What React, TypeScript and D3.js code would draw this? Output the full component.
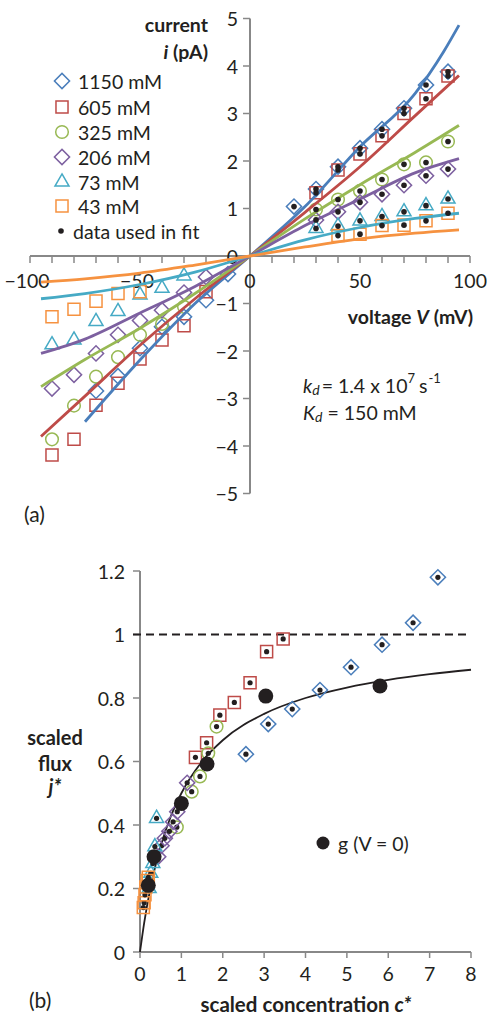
import React from 'react';
import * as d3 from 'd3';

const FONT = "Lato, 'Open Sans', 'DejaVu Sans', sans-serif";
const INK = '#231F20';
const AXIS = '#888888';
const FS = 19.5;

// ---------- Panel (a): current–voltage relations ----------
const seriesLabels = ['1150 mM', '605 mM', '325 mM', '206 mM', '73 mM', '43 mM'];
const seriesColors = ['#4A7EBB', '#BE4B48', '#98B954', '#7D60A0', '#46AAC5', '#F69240'];
const seriesShapes = ['diamond', 'square', 'circle', 'diamond', 'triangle', 'square'];

// measured currents (pA) at each voltage (mV)
const v1150 = [-70, -60, -50, -40, -30, -20, -10, 20, 30, 40, 50, 60, 70, 80, 90];
const i1150 = [-2.84, -2.53, -1.94, -1.49, -1.28, -0.93, -0.38, 1.04, 1.41, 1.88, 2.27, 2.67, 3.11, 3.6, 3.88];
const v605 = [-90, -80, -70, -60, -50, -40, -30, -20, 30, 40, 50, 60, 70, 80, 90];
const i605 = [-4.19, -3.86, -3.14, -2.68, -2.17, -1.77, -1.47, -0.75, 1.33, 1.81, 2.15, 2.53, 3.0, 3.31, 3.79];
const v325 = [-90, -80, -70, -60, -50, -40, -30, 30, 40, 50, 60, 70, 80, 90];
const i325 = [-3.86, -3.15, -2.54, -2.13, -1.66, -1.43, -1.07, 0.98, 1.19, 1.37, 1.61, 1.93, 1.97, 2.41];
const v206 = [-90, -80, -70, -60, -50, -40, -30, -20, 30, 40, 50, 60, 70, 80, 90];
const i206 = [-2.79, -2.5, -2.05, -1.66, -1.36, -1.14, -0.77, -0.44, 0.76, 0.93, 1.13, 1.3, 1.49, 1.69, 1.83];
const v73 = [-90, -80, -70, -60, -50, -40, -30, 30, 40, 50, 60, 70, 80, 90];
const i73 = [-1.87, -1.77, -1.38, -1.17, -0.82, -0.68, -0.42, 0.58, 0.63, 0.74, 0.83, 0.93, 1.06, 1.2];
const v43 = [-90, -80, -70, -60, -50, 40, 50, 60, 70, 80, 90];
const i43 = [-1.28, -1.12, -0.95, -0.79, -0.75, 0.43, 0.46, 0.64, 0.65, 0.74, 0.9];

const measuredV = [v1150, v605, v325, v206, v73, v43];
const measuredI = [i1150, i605, i325, i206, i73, i43];

// model fits
const fitV1150 = [-75, -50, -25, 0, 25, 50, 75, 88, 95];
const fitI1150 = [-3.49, -2.19, -1.0, 0, 1.04, 2.3, 3.42, 4.3, 4.86];
const fitV = [-95, -75, -50, -25, 0, 25, 50, 75, 95];
const fitI605 = [-3.8, -2.95, -1.88, -0.9, 0, 0.92, 1.88, 2.95, 3.8];
const fitI325 = [-2.75, -2.18, -1.52, -0.79, 0, 0.78, 1.5, 2.18, 2.75];
const fitI206 = [-2.05, -1.75, -1.2, -0.64, 0, 0.64, 1.2, 1.75, 2.05];
const fitI73 = [-0.9, -0.79, -0.6, -0.34, 0, 0.34, 0.6, 0.79, 0.9];
const fitI43 = [-0.55, -0.48, -0.36, -0.19, 0, 0.19, 0.36, 0.48, 0.55];

const fitVs = [fitV1150, fitV, fitV, fitV, fitV, fitV];
const fitIs = [fitI1150, fitI605, fitI325, fitI206, fitI73, fitI43];

const voltageTickLabels = [-100, -50, 0, 50, 100];
const currentTickLabels = [-5, -4, -3, -2, -1, 0, 1, 2, 3, 4, 5];

// ---------- Panel (b): scaled flux vs scaled concentration ----------
const c1150 = [2.56, 3.1, 3.68, 4.35, 5.1, 5.85, 6.6, 7.2];
const j1150 = [0.623, 0.718, 0.765, 0.825, 0.897, 0.968, 1.037, 1.18];
const c605 = [1.34, 1.61, 1.93, 2.28, 2.66, 3.06, 3.46];
const j605 = [0.613, 0.659, 0.746, 0.786, 0.848, 0.946, 0.986];
const c325 = [0.89, 1.25, 1.45, 1.65, 1.85];
const j325 = [0.393, 0.505, 0.553, 0.626, 0.71];
const c206 = [0.44, 0.52, 0.6, 0.71, 0.8, 0.9, 1.14];
const j206 = [0.3, 0.335, 0.358, 0.38, 0.41, 0.442, 0.533];
const c73 = [0.22, 0.26, 0.31, 0.36, 0.4];
const j73 = [0.2, 0.248, 0.279, 0.332, 0.421];
const c43 = [0.08, 0.1, 0.12, 0.14, 0.17, 0.2];
const j43 = [0.14, 0.155, 0.18, 0.205, 0.225, 0.235];

const scaledC = [c1150, c605, c325, c206, c73, c43];
const scaledJ = [j1150, j605, j325, j206, j73, j43];

// conductance at V = 0
const gC = [0.2, 0.34, 1.0, 1.62, 3.04, 5.8];
const gJ = [0.21, 0.3, 0.468, 0.592, 0.806, 0.838];

// saturating fit curve
const fitC = [0, 0.1, 0.25, 0.5, 0.75, 1, 1.5, 2, 3, 4, 5, 6, 7, 8];
const fitJ = [0, 0.091, 0.2, 0.333, 0.429, 0.5, 0.6, 0.667, 0.75, 0.8, 0.833, 0.857, 0.875, 0.889];

const cTickLabels = [0, 1, 2, 3, 4, 5, 6, 7, 8];
const jTickLabels = [0, 0.2, 0.4, 0.6, 0.8, 1, 1.2];

const symbolPaths: Record<string, string> = {
  diamond: d3.symbol(d3.symbolSquare, 115)() as string,
  square: d3.symbol(d3.symbolSquare, 145)() as string,
  circle: d3.symbol(d3.symbolCircle, 125)() as string,
  triangle: d3.symbol(d3.symbolTriangle, 85)() as string,
};

function Marker({ shape, x, y, color }: { shape: string; x: number; y: number; color: string }) {
  const rot = shape === 'diamond' ? ' rotate(45)' : '';
  return (
    <path
      d={symbolPaths[shape]}
      transform={`translate(${x},${y})${rot}`}
      fill="none"
      stroke={color}
      strokeWidth={1.5}
    />
  );
}

const minus = (n: number) => (n < 0 ? '\u2212' + Math.abs(n) : String(n));

function PanelA() {
  const x = d3.scaleLinear().domain([-100, 100]).range([30, 470]);
  const y = d3.scaleLinear().domain([-5, 5]).range([493.5, 18.5]);
  const line = d3
    .line<[number, number]>()
    .x((d) => x(d[0]))
    .y((d) => y(d[1]))
    .curve(d3.curveMonotoneX);
  const minorTicks = d3.range(-100, 101, 10);
  const legendY = [81, 107, 132, 157, 182, 206];

  return (
    <g>
      {/* axes */}
      <line x1={x(-100)} x2={x(100)} y1={y(0)} y2={y(0)} stroke={AXIS} strokeWidth={2} />
      <line x1={x(0)} x2={x(0)} y1={y(-5)} y2={y(5)} stroke={AXIS} strokeWidth={2} />
      {minorTicks.map((t) => (
        <line key={t} x1={x(t)} x2={x(t)} y1={y(0)} y2={y(0) + 7} stroke={AXIS} strokeWidth={1.5} />
      ))}
      {currentTickLabels.map((t) => (
        <line key={t} x1={x(0) - 7} x2={x(0)} y1={y(t)} y2={y(t)} stroke={AXIS} strokeWidth={1.5} />
      ))}
      {voltageTickLabels.map((t) => (
        <text key={t} x={x(t) - (t < 0 ? 3 : 0)} y={y(0) + 24} textAnchor="middle" dominantBaseline="central" fontSize={FS} fill={INK}>
          {minus(t)}
        </text>
      ))}
      {currentTickLabels.map((t) => (
        <text key={t} x={x(0) - 12} y={y(t)} textAnchor="end" dominantBaseline="central" fontSize={FS} fill={INK}>
          {minus(t)}
        </text>
      ))}

      {/* measured points */}
      {measuredV.map((vs, s) =>
        vs.map((v, k) => (
          <Marker key={`${s}-${k}`} shape={seriesShapes[s]} x={x(v)} y={y(measuredI[s][k])} color={seriesColors[s]} />
        ))
      )}

      {/* fits */}
      {fitVs.map((vs, s) => (
        <path
          key={s}
          d={line(vs.map((v, k) => [v, fitIs[s][k]]) as [number, number][]) as string}
          fill="none"
          stroke={seriesColors[s]}
          strokeWidth={2.8}
        />
      ))}

      {/* points used in the fit */}
      {measuredV.map((vs, s) =>
        vs.map((v, k) =>
          v > 0 ? <circle key={`d${s}-${k}`} cx={x(v)} cy={y(measuredI[s][k])} r={2.8} fill={INK} /> : null
        )
      )}

      {/* axis titles */}
      <text x={208} y={24} textAnchor="end" dominantBaseline="central" fontSize={FS} fontWeight="bold" fill={INK}>
        current
      </text>
      <text x={208} y={51} textAnchor="end" dominantBaseline="central" fontSize={FS} fontWeight="bold" fill={INK}>
        <tspan fontStyle="italic">i</tspan> (pA)
      </text>
      <text x={473} y={316} textAnchor="end" dominantBaseline="central" fontSize={FS} fontWeight="bold" fill={INK}>
        voltage <tspan fontStyle="italic">V</tspan> (mV)
      </text>

      {/* legend */}
      {seriesLabels.map((lab, s) => (
        <g key={lab}>
          <Marker shape={seriesShapes[s]} x={62} y={legendY[s]} color={seriesColors[s]} />
          <text x={78} y={legendY[s]} dominantBaseline="central" fontSize={FS} fill={INK}>
            {lab}
          </text>
        </g>
      ))}
      <circle cx={61} cy={231} r={2.8} fill={INK} />
      <text x={73} y={231} dominantBaseline="central" fontSize={FS} fill={INK}>
        data used in fit
      </text>

      {/* fit parameters */}
      <text x={303} y={385} dominantBaseline="central" fontSize={FS} fill={INK}>
        <tspan fontStyle="italic">k</tspan>
        <tspan fontStyle="italic" fontSize={14} dy={4}>d</tspan>
        <tspan dy={-4} dx={2}>= 1.4 x 10</tspan>
        <tspan fontSize={13} dy={-7}>7</tspan>
        <tspan dy={7} dx={4}>s</tspan>
        <tspan fontSize={13} dy={-7} dx={1}>-1</tspan>
      </text>
      <text x={303} y={412} dominantBaseline="central" fontSize={FS} fill={INK}>
        <tspan fontStyle="italic">K</tspan>
        <tspan fontStyle="italic" fontSize={14} dy={4}>d</tspan>
        <tspan dy={-4}> = 150 mM</tspan>
      </text>

      <text x={24} y={513} dominantBaseline="central" fontSize={21} fill={INK}>
        (a)
      </text>
    </g>
  );
}

function PanelB() {
  const x = d3.scaleLinear().domain([0, 8]).range([140, 471]);
  const y = d3.scaleLinear().domain([0, 1.2]).range([952, 571]);
  const line = d3
    .line<[number, number]>()
    .x((d) => x(d[0]))
    .y((d) => y(d[1]))
    .curve(d3.curveMonotoneX);

  return (
    <g>
      <line x1={x(0)} x2={x(8)} y1={y(0)} y2={y(0)} stroke={AXIS} strokeWidth={2} />
      <line x1={x(0)} x2={x(0)} y1={y(0)} y2={y(1.2)} stroke={AXIS} strokeWidth={2} />
      {cTickLabels.map((t) => (
        <g key={t}>
          <line x1={x(t)} x2={x(t)} y1={y(0)} y2={y(0) + 6} stroke={AXIS} strokeWidth={1.5} />
          <text x={x(t)} y={y(0) + 21} textAnchor="middle" dominantBaseline="central" fontSize={FS} fill={INK}>
            {t}
          </text>
        </g>
      ))}
      {jTickLabels.map((t) => (
        <g key={t}>
          <line x1={x(0) - 7} x2={x(0)} y1={y(t)} y2={y(t)} stroke={AXIS} strokeWidth={1.5} />
          <text x={x(0) - 15} y={y(t)} textAnchor="end" dominantBaseline="central" fontSize={FS} fill={INK}>
            {t}
          </text>
        </g>
      ))}

      {/* unit flux reference */}
      <line x1={x(0) - 7} x2={x(8)} y1={y(1)} y2={y(1)} stroke={INK} strokeWidth={1.8} strokeDasharray="8,5" />

      {/* fit */}
      <path
        d={line(fitC.map((c, k) => [c, fitJ[k]]) as [number, number][]) as string}
        fill="none"
        stroke={INK}
        strokeWidth={1.8}
      />

      {scaledC.map((cs, s) =>
        cs.map((c, k) => (
          <g key={`${s}-${k}`}>
            <Marker shape={seriesShapes[s]} x={x(c)} y={y(scaledJ[s][k])} color={seriesColors[s]} />
            <circle cx={x(c)} cy={y(scaledJ[s][k])} r={2.6} fill={INK} />
          </g>
        ))
      )}

      {gC.map((c, k) => (
        <circle key={k} cx={x(c)} cy={y(gJ[k])} r={7.5} fill={INK} />
      ))}

      {/* legend */}
      <circle cx={323} cy={843} r={6.5} fill={INK} />
      <text x={338} y={843} dominantBaseline="central" fontSize={FS} fill={INK}>
        g (V = 0)
      </text>

      {/* axis titles */}
      <text x={55} y={737} textAnchor="middle" dominantBaseline="central" fontSize={20} fontWeight="bold" fill={INK}>
        scaled
      </text>
      <text x={55} y={763} textAnchor="middle" dominantBaseline="central" fontSize={20} fontWeight="bold" fill={INK}>
        flux
      </text>
      <text x={55} y={786} textAnchor="middle" dominantBaseline="central" fontSize={20} fontWeight="bold" fill={INK}>
        <tspan fontStyle="italic">j*</tspan>
      </text>
      <text x={306} y={1004} textAnchor="middle" dominantBaseline="central" fontSize={20.5} fontWeight="bold" fill={INK}>
        scaled concentration <tspan fontStyle="italic">c*</tspan>
      </text>

      <text x={29} y={999} dominantBaseline="central" fontSize={21} fill={INK}>
        (b)
      </text>
    </g>
  );
}

export default function App() {
  return (
    <svg
      width={487}
      height={1015}
      viewBox="0 0 487 1015"
      style={{ position: 'absolute', left: 0, top: 0, background: '#fff' }}
      fontFamily={FONT}
    >
      <rect width={487} height={1015} fill="#fff" />
      <PanelA />
      <PanelB />
    </svg>
  );
}
